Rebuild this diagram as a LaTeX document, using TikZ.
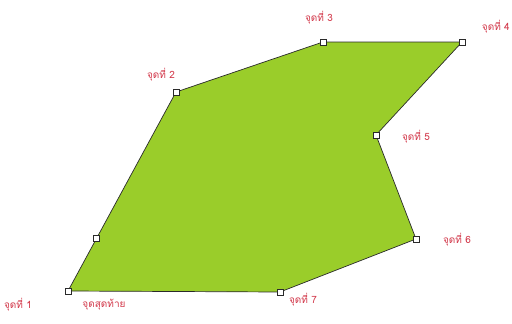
\documentclass[tikz,border=0pt]{standalone}
\usepackage{fontspec}
\newfontfamily\thaifont[Script=Thai]{Loma}
\usetikzlibrary{calc,positioning}
\definecolor{alanYesil}{HTML}{9ACD2A}
\definecolor{etiketKirmizi}{HTML}{D2384A}
\definecolor{kenarGri}{HTML}{2A2A2A}
\tikzset{
  tutamak/.style={draw=kenarGri,fill=white,line width=0.7pt,minimum size=6pt,inner sep=0pt,outer sep=0pt},
  etiket/.style={text=etiketKirmizi,font=\thaifont\fontsize{10}{11}\selectfont,inner sep=1pt}
}

\begin{document}
\begin{tikzpicture}[x=1pt,y=-1pt]
\useasboundingbox (0,0) rectangle (512,324);
\coordinate (n1) at (68,291);
\coordinate (n2) at (176,92);
\coordinate (n3) at (323,42);
\coordinate (n4) at (462,42);
\coordinate (n5) at (376,135);
\coordinate (n6) at (416,239);
\coordinate (n7) at (280,292);
\filldraw[fill=alanYesil,draw=kenarGri,line width=0.7pt] (n1)--(n2)--(n3)--(n4)--(n5)--(n6)--(n7)--cycle;
\foreach \n in {1,...,7}
  \node[tutamak] (h\n) at (n\n) {};
\node[tutamak] (hara) at ($(n1)!0.265!(n2)$) {};
\node[etiket] (e1) at (18,305) {จุดที่ 1};
\node[etiket] (eson) at (104,305) {จุดสุดท้าย};
\node[etiket] (e2) at (161,75) {จุดที่ 2};
\node[etiket] (e3) at (319,18) {จุดที่ 3};
\node[etiket,anchor=east] (e4) at (511,27) {จุดที่ 4};
\node[etiket] (e5) at (416,137) {จุดที่ 5};
\node[etiket] (e6) at (457,240) {จุดที่ 6};
\node[etiket] (e7) at (303,300) {จุดที่ 7};
\end{tikzpicture}
\end{document}
